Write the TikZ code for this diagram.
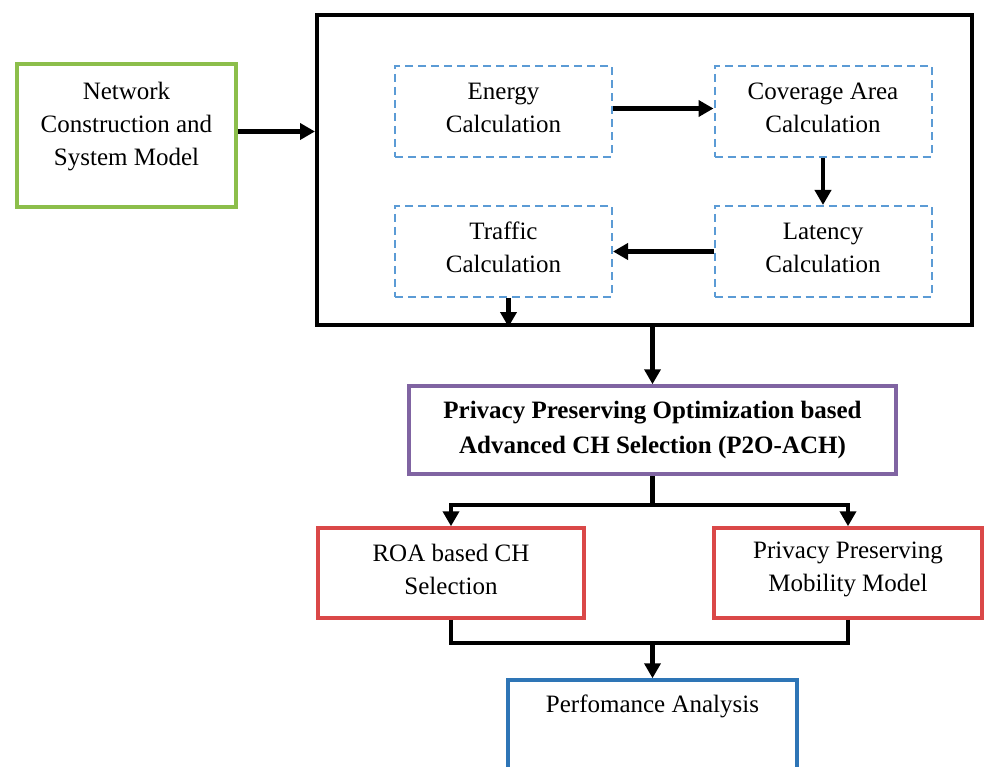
\documentclass[tikz,border=0pt]{standalone}
\usepackage{fontspec}
\setmainfont{Liberation Serif}
\usetikzlibrary{arrows.meta}
\definecolor{cgreen}{RGB}{140,190,75}
\definecolor{cpurple}{RGB}{128,100,162}
\definecolor{cred}{RGB}{218,72,72}
\definecolor{cblue}{RGB}{46,117,182}
\definecolor{cdash}{RGB}{91,155,213}
\begin{document}
\begin{tikzpicture}[x=1pt,y=-1pt,
  font=\fontsize{25}{33}\selectfont,
  box/.style={draw, rectangle, line width=3.5pt, align=center, inner sep=0pt},
  dbox/.style={draw=cdash, dash pattern=on 8pt off 5pt, line width=2pt,
    minimum width=217pt, minimum height=91pt, inner sep=0pt,
    label={[yshift=4pt, align=center]center:#1}},
  rbox/.style={box, draw=cred, minimum height=90pt,
    label={[yshift=4pt, align=center]center:#1}},
  arr/.style={line width=4.5pt, -{Triangle[length=15pt,width=16pt]}},
  ln/.style={line width=4.5pt}]
\clip (0,0) rectangle (985,767);
\fill[white] (0,0) rectangle (985,767);

\node[box, draw=cgreen, minimum width=219pt, minimum height=143pt,
  label={[yshift=9pt, align=center]center:Network\\Construction and\\System Model}] (net) at (126.5,135.5) {};

\node[draw, line width=4pt, minimum width=655pt, minimum height=310pt, inner sep=0pt] (big) at (644.5,170) {};

\node[dbox={Energy\\Calculation}] (energy) at (503.5,111.5) {};
\node[dbox={Coverage Area\\Calculation}] (coverage) at (823,111.5) {};
\node[dbox={Traffic\\Calculation}] (traffic) at (503.5,251.5) {};
\node[dbox={Latency\\Calculation}] (latency) at (823,251.5) {};

\node[box, draw=cpurple, minimum width=487pt, minimum height=88pt, font=\fontsize{25}{35}\selectfont\bfseries] (ppo) at (652.5,430) {Privacy Preserving Optimization based\\Advanced CH Selection (P2O-ACH)};

\node[rbox={ROA based CH\\Selection}, minimum width=266pt] (roa) at (451,573) {};
\node[rbox={Privacy Preserving\\Mobility Model}, minimum width=268pt] (mob) at (848,573) {};

\node[box, draw=cblue, minimum width=289pt, minimum height=100pt,
  label={[yshift=24pt]center:Perfomance Analysis}] (perf) at (652.5,730) {};

\draw[arr] ([yshift=4pt]net.east) -- ([yshift=4pt]net.east -| big.west);
\draw[arr] ([yshift=3pt]energy.east) -- ([yshift=3pt]coverage.west);
\draw[arr] (coverage) -- (latency);
\draw[arr] (latency) -- (traffic);
\draw[arr] ([xshift=5pt]traffic.south) -- ([xshift=5pt]traffic.south |- big.south);
\draw[arr] (ppo.north |- big.south) -- (ppo.north);

\coordinate (s1) at (652.5,505);
\draw[ln] (ppo.south) -- (s1);
\draw[arr] (s1) -| (roa.north);
\draw[arr] (s1) -| (mob.north);

\coordinate (j) at (652.5,643);
\draw[ln] (roa.south) |- (j);
\draw[ln] (mob.south) |- (j);
\draw[arr] (j) -- (perf.north);
\end{tikzpicture}
\end{document}
